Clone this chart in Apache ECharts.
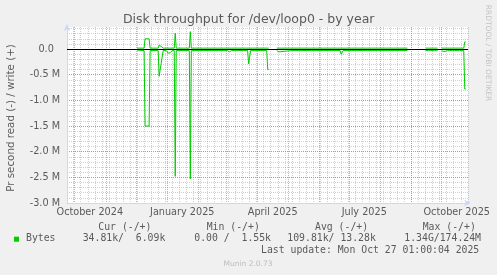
<!DOCTYPE html>
<html><head><meta charset="utf-8">
<script src="https://cdn.jsdelivr.net/npm/echarts@6/dist/echarts.min.js"></script>
<style>html,body{margin:0;padding:0;background:#f0f0f0;}#c{width:497px;height:275px;}</style>
</head><body><div id="c"></div>
<script>
// ---- data ----
const readDates = ['2024-12-02','2024-12-09','2024-12-10','2024-12-14','2024-12-15','2024-12-23','2024-12-24','2024-12-25','2024-12-26','2024-12-27','2024-12-28','2024-12-31',
  '2025-01-02','2025-01-03','2025-01-04','2025-01-06','2025-01-08','2025-01-09','2025-01-10','2025-01-23','2025-01-24','2025-01-25',
  '2025-03-02','2025-03-04','2025-03-06','2025-03-22','2025-03-23','2025-03-24','2025-03-25',
  '2025-04-10','2025-04-11','2025-04-12','2025-04-13',
  '2025-04-20','2025-04-21','2025-04-22','2025-04-23','2025-05-04','2025-05-05','2025-05-06','2025-06-22','2025-06-23','2025-06-24','2025-06-25','2025-08-28','2025-08-29',
  '2025-09-15','2025-09-18','2025-09-19','2025-09-20','2025-09-24','2025-09-25','2025-09-26','2025-09-27','2025-09-28',
  '2025-10-01','2025-10-02','2025-10-03','2025-10-04','2025-10-07','2025-10-08','2025-10-09','2025-10-12','2025-10-13','2025-10-14','2025-10-17','2025-10-18','2025-10-19','2025-10-23','2025-10-24','2025-10-25'];
const readValues = [20000,30000,1500000,1500000,30000,30000,530000,520000,280000,270000,30000,30000,
  80000,110000,70000,30000,30000,2480000,30000,30000,2530000,30000,
  30000,55000,30000,30000,290000,290000,30000,
  30000,400000,400000,null,
  30000,30000,55000,30000,30000,50000,30000,30000,100000,100000,30000,30000,null,
  30000,30000,50000,30000,30000,50000,30000,30000,null,
  30000,30000,50000,30000,30000,50000,30000,30000,50000,30000,30000,50000,30000,30000,780000,780000];
const writeDates = ['2024-12-02','2024-12-09','2024-12-10','2024-12-14','2024-12-15','2024-12-23','2024-12-24','2024-12-25','2024-12-26','2024-12-27','2024-12-28',
  '2025-01-08','2025-01-09','2025-01-10','2025-01-23','2025-01-24','2025-01-25','2025-04-12','2025-04-13',
  '2025-04-20','2025-08-28','2025-08-29','2025-09-15','2025-09-27','2025-09-28','2025-10-01','2025-10-23','2025-10-24','2025-10-25'];
const writeValues = [18000,18000,200000,200000,18000,18000,75000,70000,50000,25000,18000,
  18000,310000,18000,18000,340000,18000,18000,null,
  18000,18000,null,18000,18000,null,18000,18000,140000,140000];
const xTickLabels = ['October 2024','January 2025','April 2025','July 2025','October 2025'];
const xTickDates = ['2024-10-16','2025-01-16','2025-04-16','2025-07-16','2025-10-16'];
const legendHeaders = ['Cur (-/+)','Min (-/+)','Avg (-/+)','Max (-/+)'];
const legendValues = ['34.81k/  6.09k','0.00 /  1.55k','109.81k/ 13.28k','1.34G/174.24M'];
const seriesName = 'Bytes';
const lastUpdate = 'Last update: Mon Oct 27 01:00:04 2025';

// ---- helpers ----
function t(s){const p=s.split('-').map(Number);return Date.UTC(p[0],p[1]-1,p[2]);}
const xMin = Date.UTC(2024,8,23,8), xMax = Date.UTC(2025,9,27,5);
const DAY = 86400000;
const monthStarts = [];
for (let i=0;i<=12;i++) monthStarts.push(Date.UTC(2024,9+i,1));
const weekStarts = [];
for (let w=Date.UTC(2024,8,30); w<=xMax; w+=7*DAY) weekStarts.push(w);
const labelTimes = xTickDates.map(t);

const GREEN = '#00cc00', FONT = '#5a5a5a', AXIS = '#CFD6F8';
const MGRID = 'rgba(230,90,90,0.6)', GRID = 'rgba(150,150,150,0.45)';
const sans = '"DejaVu Sans"', mono = '"DejaVu Sans Mono"';

const baseX = {type:'value', min:xMin, max:xMax, axisLine:{show:false}, axisLabel:{show:false}, axisTick:{show:false}};
const baseY = {type:'value', min:-3000000, max:430000, position:'left', axisLine:{show:false}, axisLabel:{show:false}, axisTick:{show:false}};

const legendLeft = [98.3, 206.7, 315, 422.7];
const valueLeft = [82.7, 194.3, 287.3, 404.3];
const graphic = [
  {type:'text', x:248.7, y:19.5, style:{text:'Disk throughput for /dev/loop0 - by year', font:'12.5px '+sans, fill:FONT, textAlign:'center', textVerticalAlign:'middle'}},
  {type:'text', x:11.3, y:118, rotation:Math.PI/2, style:{text:'Pr second read (-) / write (+)', font:'10.3px '+sans, fill:FONT, textAlign:'center', textVerticalAlign:'middle'}},
  {type:'text', x:487.5, y:53, rotation:-Math.PI/2, style:{text:'RRDTOOL / TOBI OETIKER', font:'7.5px '+sans, fill:'#c4c4c4', textAlign:'center', textVerticalAlign:'middle'}},
  {type:'rect', shape:{x:14, y:236.7, width:5, height:5}, style:{fill:GREEN}},
  {type:'text', x:26, y:238.7, style:{text:seriesName, font:'9.8px '+mono, fill:FONT, textAlign:'left', textVerticalAlign:'middle'}},
  {type:'text', x:261, y:250.3, style:{text:lastUpdate, font:'9.8px '+mono, fill:FONT, textAlign:'left', textVerticalAlign:'middle'}},
  {type:'text', x:248, y:263.8, style:{text:'Munin 2.0.73', font:'7.5px '+sans, fill:'#bdbdbd', textAlign:'center', textVerticalAlign:'middle'}}
];
legendHeaders.forEach((h,i)=>graphic.push({type:'text', x:legendLeft[i], y:227, style:{text:h, font:'9.8px '+mono, fill:FONT, textAlign:'left', textVerticalAlign:'middle'}}));
legendValues.forEach((h,i)=>graphic.push({type:'text', x:valueLeft[i], y:238.7, style:{text:h, font:'9.8px '+mono, fill:FONT, textAlign:'left', textVerticalAlign:'middle'}}));

const chart = echarts.init(document.getElementById('c'), null, {renderer:'canvas'});
chart.setOption({
  animation:false,
  backgroundColor:'#f0f0f0',
  grid:{left:67, right:29, top:27, bottom:72, show:true, backgroundColor:'#ffffff', borderWidth:0, containLabel:false, outerBoundsMode:'none'},
  xAxis:[
    Object.assign({}, baseX, {axisTick:{show:false, customValues:weekStarts}, splitLine:{show:true, lineStyle:{color:GRID, width:1, type:[1,1]}}}),
    Object.assign({}, baseX, {axisTick:{show:false, customValues:monthStarts}, splitLine:{show:true, lineStyle:{color:MGRID, width:1, type:[1,1]}}}),
    Object.assign({}, baseX, {
      position:'bottom',
      axisLine:{show:true, lineStyle:{color:AXIS, width:1}, symbol:['none','arrow'], symbolSize:[5,7], symbolOffset:[0,3]},
      axisTick:{show:false, customValues:labelTimes},
      axisLabel:{show:true, customValues:labelTimes, color:FONT, fontSize:9.7, fontFamily:sans, margin:4,
        formatter:function(v){const i=labelTimes.indexOf(v);return i>=0?xTickLabels[i]:'';}},
      splitLine:{show:false}
    })
  ],
  yAxis:[
    Object.assign({}, baseY, {interval:100000, splitLine:{show:true, showMinLine:false, showMaxLine:false, lineStyle:{color:GRID, width:1, type:[1,1]}}}),
    Object.assign({}, baseY, {
      interval:500000,
      axisLine:{show:true, lineStyle:{color:AXIS, width:1}, symbol:['none','arrow'], symbolSize:[5,7], symbolOffset:[0,3]},
      axisLabel:{show:true, color:FONT, fontSize:9.7, fontFamily:sans, margin:7, showMaxLabel:false,
        formatter:function(v){ if (Math.abs(v%500000)>1) return ''; if (v===0) return '0.0  '; return (v/1e6).toFixed(1)+' M'; }},
      splitLine:{show:true, showMinLine:false, showMaxLine:false, lineStyle:{color:MGRID, width:1, type:[1,1]}}
    })
  ],
  series:[
    {type:'line', name:seriesName+' read', xAxisIndex:2, yAxisIndex:1, showSymbol:false, connectNulls:false, silent:true,
     lineStyle:{color:GREEN, width:1}, itemStyle:{color:GREEN},
     data:readDates.map((d,i)=>[t(d), readValues[i]==null?'-':-readValues[i]])},
    {type:'line', name:seriesName+' write', xAxisIndex:2, yAxisIndex:1, showSymbol:false, connectNulls:false, silent:true,
     lineStyle:{color:GREEN, width:1}, itemStyle:{color:GREEN},
     data:writeDates.map((d,i)=>[t(d), writeValues[i]==null?'-':writeValues[i]]),
     markLine:{silent:true, symbol:['none','none'], label:{show:false}, lineStyle:{color:'#000', width:1, type:'solid'}, data:[{yAxis:0}]}}
  ],
  graphic:graphic
});
</script></body></html>
